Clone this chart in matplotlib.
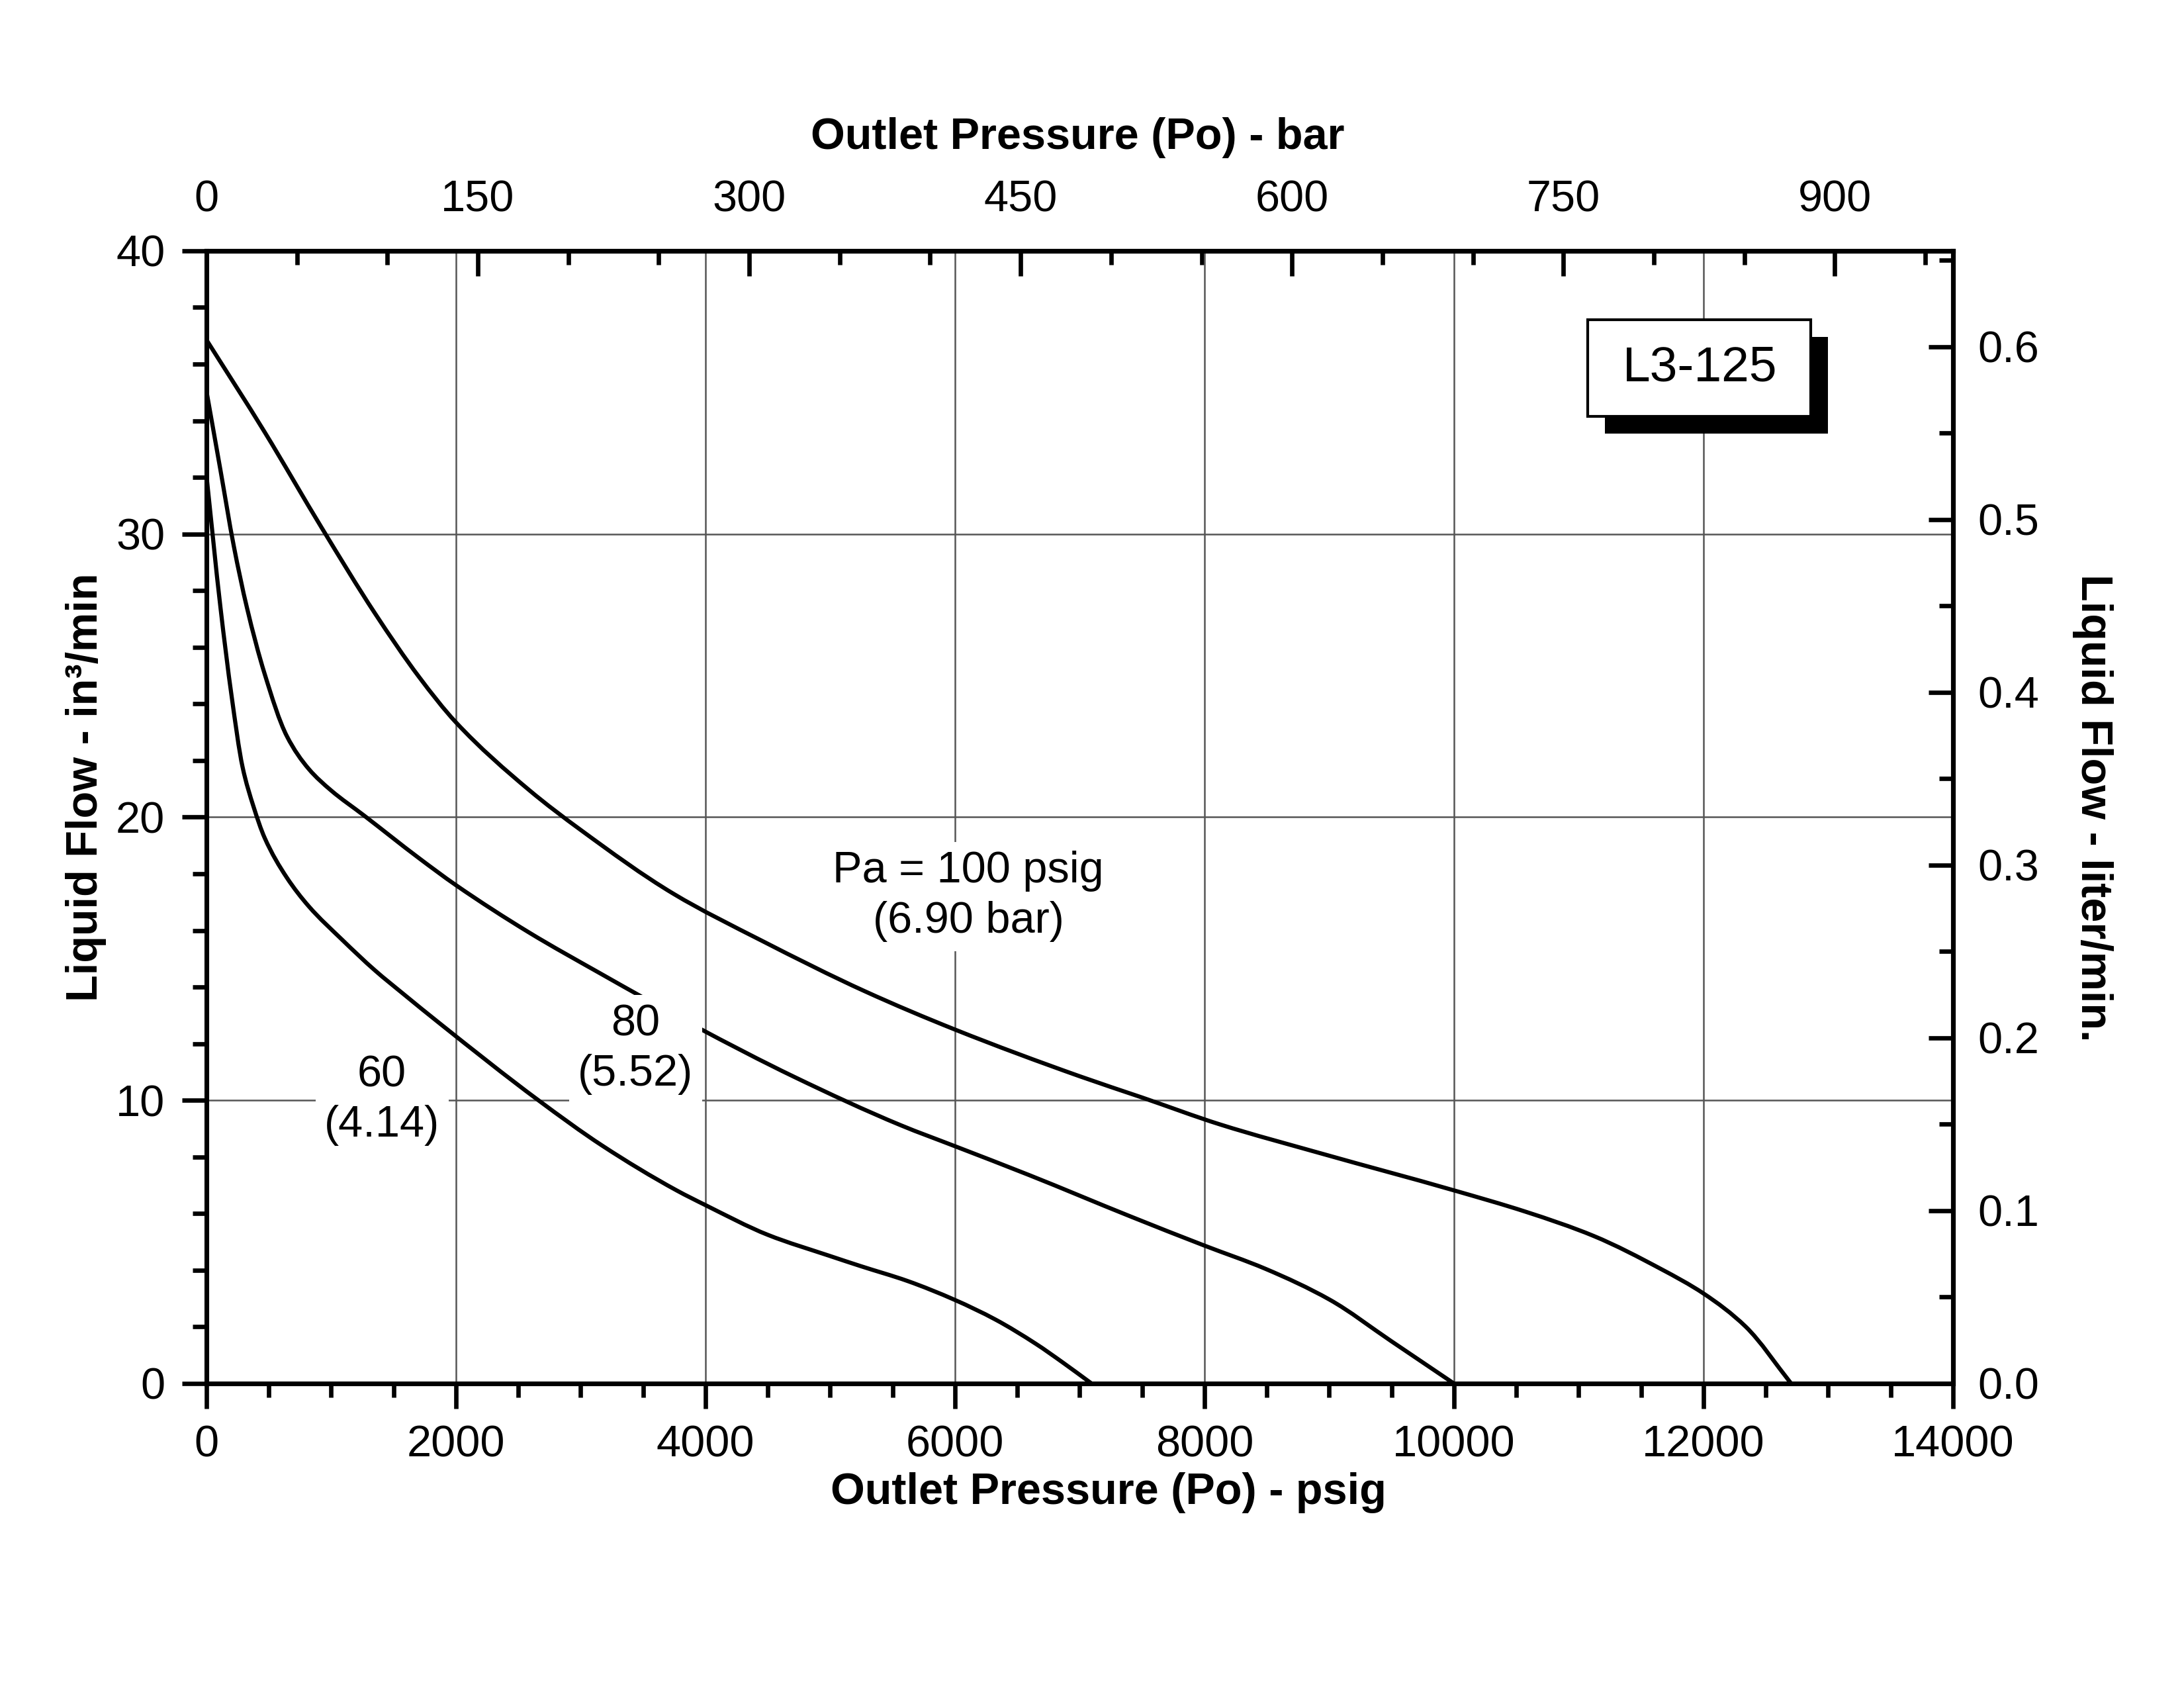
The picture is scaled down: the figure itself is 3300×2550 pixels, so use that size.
import matplotlib
matplotlib.use("Agg")
import numpy as np
import matplotlib.pyplot as plt
from matplotlib.patches import Rectangle, PathPatch
from matplotlib.path import Path
from matplotlib.ticker import MultipleLocator

plt.rcParams['font.family'] = ['Liberation Sans', 'DejaVu Sans']

# curvas de caudal (in3/min) contra presion de salida (psig)
psi_100 = [0, 467, 927, 1351, 1705, 2000, 2589, 3000, 3742, 4446, 5279, 6000,
           7000, 7500, 8124, 8955, 10000, 10579, 11120, 11661, 12000, 12338, 12703]
flow_100 = [36.86, 33.60, 30.20, 27.20, 24.95, 23.35, 20.95, 19.55, 17.30, 15.65,
            13.85, 12.50, 10.85, 10.10, 9.15, 8.10, 6.82, 6.06, 5.21, 4.04, 3.18, 2.01, 0]

psi_80 = [0, 113, 219, 325, 467, 644, 821, 998, 1263, 1705, 2000, 2589, 3146, 3918,
          4711, 5566, 6000, 6595, 7407, 8000, 8489, 9004, 9496, 10000]
flow_80 = [35.06, 32.25, 29.59, 27.40, 25.06, 22.87, 21.70, 20.95, 20.06, 18.55,
           17.60, 15.92, 14.51, 12.62, 10.83, 9.12, 8.38, 7.36, 5.90, 4.87, 4.05,
           2.96, 1.50, 0]

psi_60 = [0, 113, 202, 290, 378, 467, 644, 821, 1086, 1351, 1581, 1861, 2659, 3173,
          3769, 4000, 4500, 5000, 5241, 5620, 6000, 6324, 6649, 6865, 7095]
flow_60 = [32.09, 27.40, 24.28, 21.77, 20.37, 19.27, 17.87, 16.85, 15.68, 14.59,
           13.75, 12.75, 10.01, 8.40, 6.82, 6.30, 5.25, 4.50, 4.15, 3.62, 2.95, 2.26,
           1.40, 0.74, 0]

# etiquetas de cada curva: (psig, in3/min, texto)
etiquetas = [
    (1407, 10.0, '60\n(4.14)'),
    (3440, 11.8, '80\n(5.52)'),
    (6108, 17.2, 'Pa = 100 psig\n(6.90 bar)'),
]

bar_ticks = [0, 150, 300, 450, 600, 750, 900]
lpm_ticks = [0.0, 0.1, 0.2, 0.3, 0.4, 0.5, 0.6]

PSI_A_BAR = 0.0689476
IN3_A_L = 0.0163871


def curva_suave(x, y):
    # trazo suave por los puntos leidos (tangentes monotonas, segmentos bezier)
    x = np.asarray(x, float)
    y = np.asarray(y, float)
    h = np.diff(x)
    d = np.diff(y) / h
    m = np.zeros_like(x)
    m[0], m[-1] = d[0], d[-1]
    for i in range(1, len(x) - 1):
        if d[i - 1] * d[i] > 0:
            w1 = 2 * h[i] + h[i - 1]
            w2 = h[i] + 2 * h[i - 1]
            m[i] = (w1 + w2) / (w1 / d[i - 1] + w2 / d[i])
    verts = [(x[0], y[0])]
    codes = [Path.MOVETO]
    for i in range(len(x) - 1):
        verts += [(x[i] + h[i] / 3, y[i] + m[i] * h[i] / 3),
                  (x[i + 1] - h[i] / 3, y[i + 1] - m[i + 1] * h[i] / 3),
                  (x[i + 1], y[i + 1])]
        codes += [Path.CURVE4] * 3
    return Path(verts, codes)


fig = plt.figure(figsize=(11, 8.5), dpi=300)
ax = fig.add_axes([0.0945, 0.1804, 0.7997, 0.6710])

for xs, ys in [(psi_100, flow_100), (psi_80, flow_80), (psi_60, flow_60)]:
    ax.add_patch(PathPatch(curva_suave(xs, ys), fc='none', ec='black', lw=1.5, zorder=3))

ax.set_xlim(0, 14000)
ax.set_ylim(0, 40)
ax.xaxis.set_major_locator(MultipleLocator(2000))
ax.xaxis.set_minor_locator(MultipleLocator(500))
ax.yaxis.set_major_locator(MultipleLocator(10))
ax.yaxis.set_minor_locator(MultipleLocator(2))
ax.set_axisbelow(True)
ax.grid(True, which='major', color='#555555', lw=0.6)

ax.tick_params(which='major', direction='out', length=9, width=1.6, labelsize=16, pad=6)
ax.tick_params(which='minor', direction='out', length=5, width=1.6)
for s in ax.spines.values():
    s.set_linewidth(1.7)

# eje superior en bar
secx = ax.secondary_xaxis('top', functions=(lambda p: p * PSI_A_BAR, lambda b: b / PSI_A_BAR))
secx.set_xticks(bar_ticks)
secx.xaxis.set_minor_locator(MultipleLocator(50))
secx.tick_params(which='major', direction='in', length=9, width=1.6, labelsize=16, pad=11)
secx.tick_params(which='minor', direction='in', length=5, width=1.6)
secx.spines['top'].set_linewidth(1.7)

# eje derecho en litros/min
secy = ax.secondary_yaxis('right', functions=(lambda v: v * IN3_A_L, lambda l: l / IN3_A_L))
secy.set_yticks(lpm_ticks)
secy.set_yticklabels(['%.1f' % v for v in lpm_ticks])
secy.yaxis.set_minor_locator(MultipleLocator(0.05))
secy.tick_params(which='major', direction='in', length=9, width=1.6, labelsize=16, pad=9)
secy.tick_params(which='minor', direction='in', length=5, width=1.6)
secy.spines['right'].set_linewidth(1.7)

ax.set_xlabel('Outlet Pressure (Po) - psig', fontsize=16, fontweight='bold', va='center')
ax.xaxis.set_label_coords(0.5165, -0.0965)
ax.set_ylabel('Liquid Flow - in³/min', fontsize=16, fontweight='bold', va='center', ha='center')
ax.yaxis.set_label_coords(-0.069, 0.5266)
secx.set_xlabel('Outlet Pressure (Po) - bar', fontsize=16, fontweight='bold', va='center')
secx.xaxis.set_label_coords(0.499, 1.1000, transform=ax.transAxes)
secy.set_ylabel('Liquid Flow - liter/min.', fontsize=16, fontweight='bold', rotation=270,
                va='center', ha='center')
secy.yaxis.set_label_coords(1.080, 0.508, transform=ax.transAxes)

for x, y, t in etiquetas:
    ax.text(x, y, t, ha='center', va='center', fontsize=16, linespacing=1.3, zorder=5,
            bbox=dict(boxstyle='square,pad=0.2', fc='white', ec='none'))

# recuadro del modelo con sombra
ax.add_patch(Rectangle((0.791 + 0.0099, 0.854 - 0.0152), 0.1277, 0.0853,
                       transform=ax.transAxes, fc='black', ec='none', zorder=6))
ax.add_patch(Rectangle((0.791, 0.854), 0.1277, 0.0853, transform=ax.transAxes,
                       fc='white', ec='black', lw=1.0, zorder=7))
ax.text(0.855, 0.8965, 'L3-125', transform=ax.transAxes, ha='center', va='center',
        fontsize=18, zorder=8)

fig.savefig('out.png', dpi=300)
